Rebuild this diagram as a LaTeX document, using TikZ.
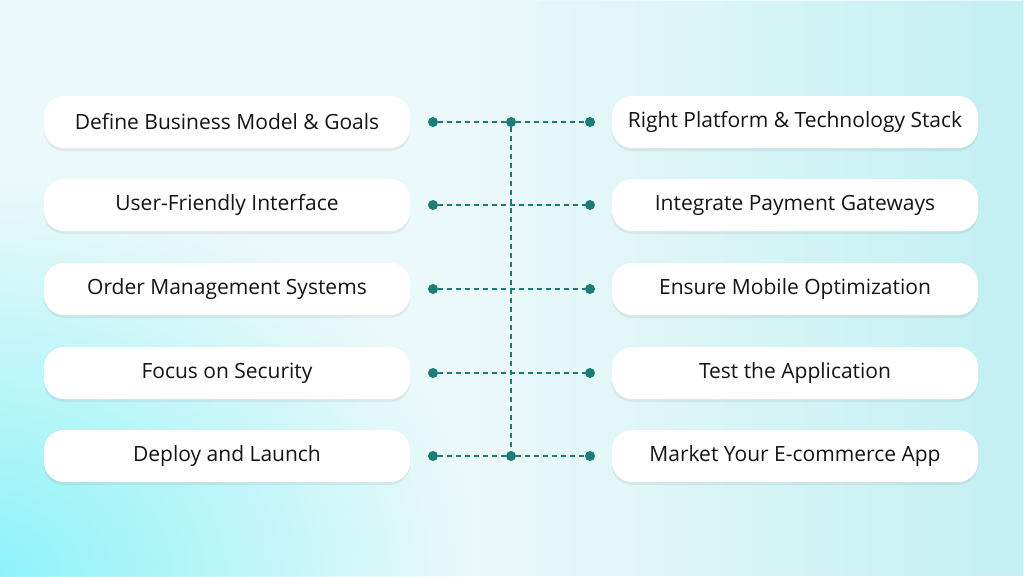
\documentclass[tikz,border=0pt]{standalone}
\usepackage{fontspec}
\setmainfont{Open Sans}
\usetikzlibrary{shadows,fadings}

\definecolor{teal1}{HTML}{1B7C78}
\definecolor{bgpale}{HTML}{ECF9FA}
\definecolor{bgcyan}{HTML}{8AF3F8}
\definecolor{bgright}{HTML}{C2F0F3}
\tikzfading[name=softglow, inner color=transparent!0, outer color=transparent!100]
\tikzfading[name=tofromright, left color=transparent!100, right color=transparent!0]

\begin{document}
\begin{tikzpicture}[x=1pt,y=-1pt,
    item/.style={fill=white,rounded corners=20pt,minimum width=366pt,
      minimum height=52pt,inner sep=0pt,text=black!92,
      font=\fontsize{21}{24}\selectfont,
      drop shadow={opacity=0.12,shadow xshift=0pt,shadow yshift=-3pt}},
    dot/.style={fill=teal1,circle,inner sep=0pt,minimum size=10pt},
    link/.style={teal1,line width=1.8pt,dash pattern=on 5pt off 4pt}]
      % background
      \useasboundingbox (0,0) rectangle (1024,576) ;
      \fill[bgpale] (0,0) rectangle (1024,576) ;
      \fill[bgright,path fading=tofromright] (480,0) rectangle (1024,576) ;
      \fill[bgcyan,path fading=softglow] (-520,180) rectangle (480,980) ;
      % left column
      \node[item] (L1) at (227,122) {Define Business Model \& Goals} ;
      \node[item] (L2) at (227,205) {User-Friendly Interface} ;
      \node[item] (L3) at (227,289) {Order Management Systems} ;
      \node[item] (L4) at (227,373) {Focus on Security} ;
      \node[item] (L5) at (227,456) {Deploy and Launch} ;
      % right column
      \node[item] (R1) at (795,122) {Right Platform \& Technology Stack} ;
      \node[item] (R2) at (795,205) {Integrate Payment Gateways} ;
      \node[item] (R3) at (795,289) {Ensure Mobile Optimization} ;
      \node[item] (R4) at (795,373) {Test the Application} ;
      \node[item] (R5) at (795,456) {Market Your E-commerce App} ;
      % dots
      \node[dot] (DL1) at (433,122) {} ;
      \node[dot] (DL2) at (433,205) {} ;
      \node[dot] (DL3) at (433,289) {} ;
      \node[dot] (DL4) at (433,373) {} ;
      \node[dot] (DL5) at (433,456) {} ;
      \node[dot] (DR1) at (590,122) {} ;
      \node[dot] (DR2) at (590,205) {} ;
      \node[dot] (DR3) at (590,289) {} ;
      \node[dot] (DR4) at (590,373) {} ;
      \node[dot] (DR5) at (590,456) {} ;
      \node[dot] (C1) at (511,122) {} ;
      \node[dot] (C5) at (511,456) {} ;
      % connectors
      \draw[link] (C1) -- (C5) ;
      \draw[link] (DL1) -- (C1) -- (DR1) ;
      \draw[link] (DL2) -- (DR2) ;
      \draw[link] (DL3) -- (DR3) ;
      \draw[link] (DL4) -- (DR4) ;
      \draw[link] (DL5) -- (C5) -- (DR5) ;
    \end{tikzpicture}
\end{document}
